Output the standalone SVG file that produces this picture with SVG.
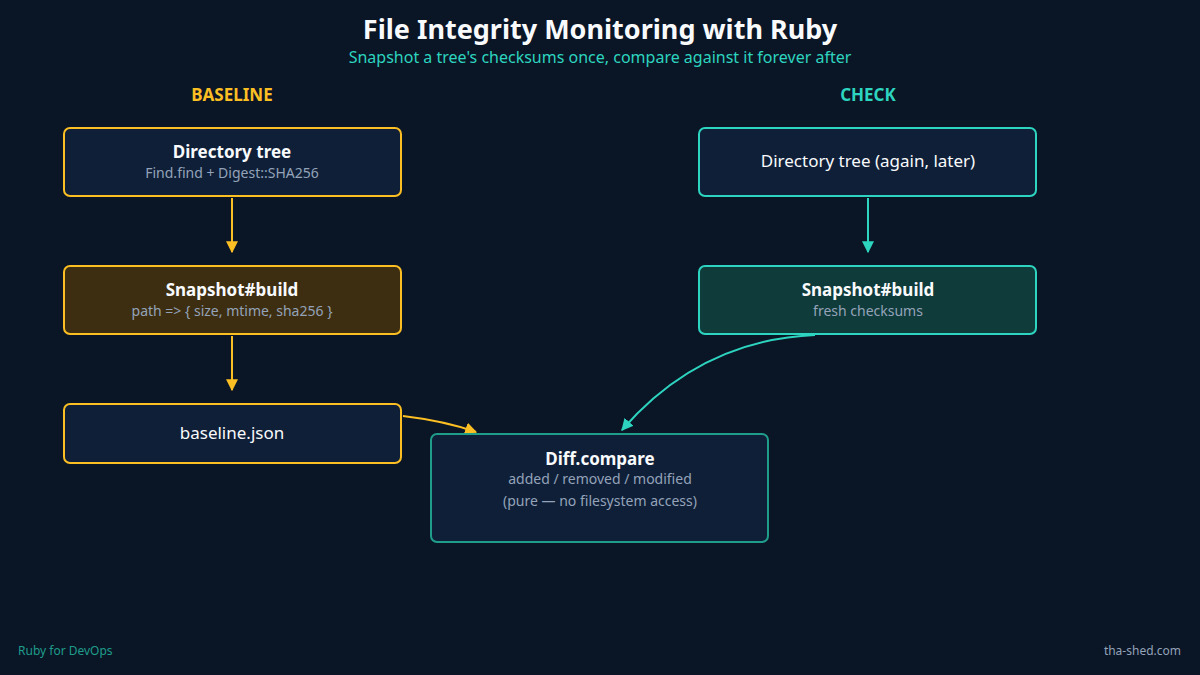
<svg xmlns="http://www.w3.org/2000/svg" width="1200" height="675" viewBox="0 0 1200 675">
<defs>
<style>
text{font-family:"Noto Sans","DejaVu Sans",sans-serif}
.t{fill:#f8fafc;font-size:17px;font-weight:bold;text-anchor:middle}
.n{fill:#f8fafc;font-size:17px;text-anchor:middle}
.s{fill:#94a3b8;font-size:14px;text-anchor:middle}
.y{stroke:#fbbf24;stroke-width:2}
.c{stroke:#2dd4bf;stroke-width:2}
</style>
<marker id="ay" viewBox="0 0 10 10" refX="9" refY="5" markerWidth="6" markerHeight="6" orient="auto"><path d="M0,0L10,5L0,10z" fill="#fbbf24"/></marker>
<marker id="ac" viewBox="0 0 10 10" refX="9" refY="5" markerWidth="6" markerHeight="6" orient="auto"><path d="M0,0L10,5L0,10z" fill="#2dd4bf"/></marker>
</defs>
<rect width="1200" height="675" fill="#0a1526"/>
<text x="600" y="39" style="fill:#f8fafc;font-size:27px;font-weight:bold;text-anchor:middle">File Integrity Monitoring with Ruby</text>
<text x="600" y="63" style="fill:#2dd4bf;font-size:16px;text-anchor:middle">Snapshot a tree's checksums once, compare against it forever after</text>
<text x="232" y="101" style="fill:#fbbf24;font-size:17px;font-weight:bold;text-anchor:middle">BASELINE</text>
<text x="868" y="101" style="fill:#2dd4bf;font-size:17px;font-weight:bold;text-anchor:middle">CHECK</text>
<g id="connectors" fill="none">
<line x1="232" y1="198" x2="232" y2="252" class="y" marker-end="url(#ay)"/>
<line x1="232" y1="336" x2="232" y2="390" class="y" marker-end="url(#ay)"/>
<line x1="868" y1="198" x2="868" y2="252" class="c" marker-end="url(#ac)"/>
<path d="M815,335 Q700,340 622,430" class="c" marker-end="url(#ac)"/>
<path d="M403,416 Q445,421 476,432" class="y" marker-end="url(#ay)"/>
</g>
<g id="dir-tree"><rect x="64" y="128" width="337" height="68" rx="6" fill="#0f1f38" class="y"/>
<text x="232" y="158" class="t">Directory tree</text><text x="232" y="178" class="s">Find.find + Digest::SHA256</text></g>
<g id="snap-base"><rect x="64" y="266" width="337" height="68" rx="6" fill="#3d2e12" class="y"/>
<text x="232" y="296" class="t">Snapshot#build</text><text x="232" y="316" class="s">path =&gt; { size, mtime, sha256 }</text></g>
<g id="baseline-json"><rect x="64" y="404" width="337" height="59" rx="6" fill="#0f1f38" class="y"/>
<text x="232" y="439" class="n">baseline.json</text></g>
<g id="dir-tree-2"><rect x="699" y="128" width="337" height="68" rx="6" fill="#0f1f38" class="c"/>
<text x="868" y="167" class="n">Directory tree (again, later)</text></g>
<g id="snap-check"><rect x="699" y="266" width="337" height="68" rx="6" fill="#0f3b3b" class="c"/>
<text x="868" y="296" class="t">Snapshot#build</text><text x="868" y="316" class="s">fresh checksums</text></g>
<g id="diff"><rect x="431" y="434" width="337" height="108" rx="6" fill="#0f1f38" stroke="#1f9d8a" stroke-width="2"/>
<text x="600" y="465" class="t">Diff.compare</text><text x="600" y="484" class="s">added / removed / modified</text><text x="600" y="506" class="s">(pure — no filesystem access)</text></g>
<text x="18" y="655" style="fill:#1f9d8a;font-size:12px">Ruby for DevOps</text>
<text x="1181" y="655" style="fill:#94a3b8;font-size:12px;text-anchor:end">tha-shed.com</text>
</svg>
